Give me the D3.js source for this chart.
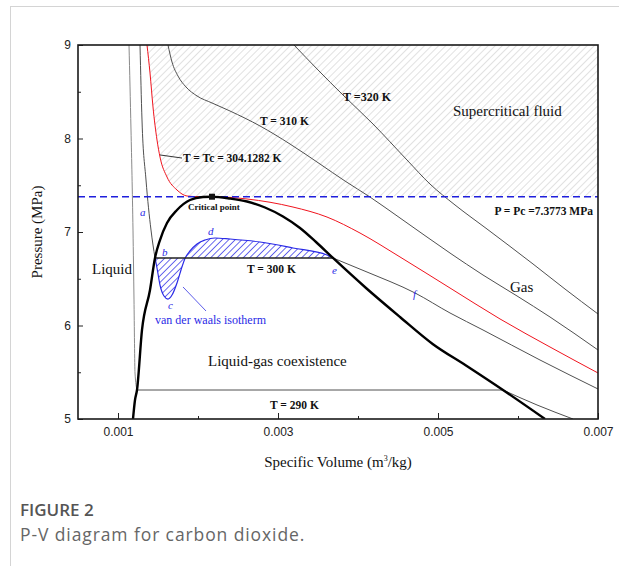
<!DOCTYPE html>
<html>
<head>
<meta charset="utf-8">
<script src="https://cdn.jsdelivr.net/npm/d3@7"></script>
<style>
  html, body { margin: 0; padding: 0; background: #fff; }
  svg { display: block; }
</style>
</head>
<body>
<script>
// ---- CO2 P-V diagram data (specific volume in m^3/kg, pressure in MPa) ----
const pc = 7.3773;          // critical pressure
const vc = 0.002175;        // critical specific volume
const psat300 = 6.722;      // saturation pressure at 300 K
const psat290 = 5.31;       // saturation pressure at 290 K

// saturation dome
const domeV = [0.0011875, 0.0012125, 0.0012375, 0.0013, 0.0014, 0.0014625, 0.001525, 0.0016125, 0.0017375, 0.0019, 0.0020625, 0.002175,
               0.0024, 0.0026125, 0.0028375, 0.0030625, 0.003275, 0.003475, 0.0036875, 0.0041, 0.004525, 0.0049375, 0.00535, 0.0058125, 0.0063375];
const domeP = [5.0, 5.203, 5.31, 5.952, 6.38, 6.722, 6.914, 7.096, 7.235, 7.342, 7.374, 7.3773,
               7.358, 7.326, 7.262, 7.166, 7.043, 6.893, 6.722, 6.401, 6.091, 5.8, 5.572, 5.31, 5.0];

// critical isotherm T = Tc
const tcV = [0.0013625, 0.0014, 0.0014375, 0.0014875, 0.001525, 0.0016125, 0.0017375, 0.0018625, 0.002025, 0.002175,
             0.0026125, 0.0031875, 0.0036125, 0.004025, 0.004525, 0.00515, 0.005775, 0.0064, 0.007];
const tcP = [9.0, 8.701, 8.337, 7.984, 7.802, 7.588, 7.449, 7.385, 7.3773, 7.3773,
             7.353, 7.267, 7.16, 6.989, 6.733, 6.401, 6.07, 5.77, 5.492];

// T = 310 K
const t310V = [0.001625, 0.001675, 0.00175, 0.00185, 0.0019875, 0.002175, 0.0024, 0.002775, 0.00315, 0.003525, 0.0038375,
               0.00415, 0.004525, 0.00515, 0.0055625, 0.0059875, 0.0064, 0.007];
const t310P = [9.0, 8.818, 8.668, 8.551, 8.455, 8.38, 8.294, 8.134, 7.941, 7.727, 7.545,
               7.374, 7.15, 6.775, 6.54, 6.316, 6.091, 5.738];

// T = 320 K
const t320V = [0.0032, 0.0035, 0.0038125, 0.0041875, 0.0046125, 0.0049, 0.0052125, 0.0056125, 0.0061875, 0.0065875, 0.007];
const t320P = [9.0, 8.733, 8.465, 8.155, 7.77, 7.513, 7.289, 7.032, 6.658, 6.39, 6.123];

// T = 300 K: liquid branch, gas branch
const t300LiqV = [0.001275, 0.0013, 0.00135, 0.0014125, 0.0014625];
const t300LiqP = [9.0, 8.198, 7.556, 7.021, 6.722];
const t300GasV = [0.0036875, 0.0041125, 0.0047125, 0.00515, 0.0055625, 0.006275, 0.007];
const t300GasP = [6.722, 6.572, 6.348, 6.134, 5.952, 5.631, 5.321];

// T = 290 K: liquid branch, gas branch
const t290LiqV = [0.0011375, 0.0011625, 0.0011875, 0.0012, 0.0012125, 0.0012375];
const t290LiqP = [9.0, 8.091, 7.021, 6.273, 5.492, 5.31];
const t290GasV = [0.0058125, 0.0062375, 0.0066875];
const t290GasP = [5.31, 5.15, 5.0];

// van der Waals loop at 300 K (b -> c -> d -> e)
const vdwV = [0.0014625, 0.0014875, 0.001525, 0.001575, 0.001625, 0.001675, 0.0017375, 0.0017875, 0.00184,
              0.0019, 0.0019875, 0.0020875, 0.0022125, 0.0024, 0.002775, 0.0031875, 0.0036125, 0.0036875];
const vdwP = [6.722, 6.615, 6.433, 6.316, 6.283, 6.326, 6.455, 6.594, 6.722,
              6.797, 6.872, 6.914, 6.936, 6.925, 6.893, 6.829, 6.754, 6.722];

// axis ticks
const xMajor = [0.001, 0.003, 0.005, 0.007];
const xMinor = [0.002, 0.004, 0.006];
const yMajor = [5, 6, 7, 8, 9];
const yMinor = [5.5, 6.5, 7.5, 8.5];

// ---- layout ----
const W = 619, H = 566;
const m = { left: 78, top: 45, width: 520, height: 374 };

const svg = d3.select("body").append("svg").attr("width", W).attr("height", H);

// page frame lines
svg.append("line").attr("x1", 10.5).attr("x2", 10.5).attr("y1", 6).attr("y2", H).attr("stroke", "#d4d4d4");
svg.append("line").attr("x1", 10).attr("x2", W).attr("y1", 6.5).attr("y2", 6.5).attr("stroke", "#d4d4d4");

const defs = svg.append("defs");
function hatch(id, gap, color, width) {
  const p = defs.append("pattern").attr("id", id).attr("patternUnits", "userSpaceOnUse")
    .attr("width", gap).attr("height", gap).attr("patternTransform", "rotate(45)");
  p.append("line").attr("x1", 0).attr("y1", 0).attr("x2", 0).attr("y2", gap)
    .attr("stroke", color).attr("stroke-width", width);
}
hatch("hatchGrey", 5, "#bdbdbd", 0.9);
hatch("hatchBlue", 4.6, "#2a2ae6", 1.4);

defs.append("clipPath").attr("id", "plotClip").append("rect")
  .attr("width", m.width).attr("height", m.height);

const g = svg.append("g").attr("transform", `translate(${m.left},${m.top})`);
const x = d3.scaleLinear().domain([0.0005, 0.007]).range([0, m.width]);
const y = d3.scaleLinear().domain([5, 9]).range([m.height, 0]);

const zip = (vs, ps) => vs.map((v, i) => [v, ps[i]]);
const line = d3.line().x(d => x(d[0])).y(d => y(d[1])).curve(d3.curveMonotoneX);

const plot = g.append("g").attr("clip-path", "url(#plotClip)");

// supercritical region: right of the critical isotherm, above Pc
const scBound = zip(tcV, tcP).filter(d => d[0] <= vc).concat([[0.007, pc]]);
plot.append("path")
  .attr("d", d3.area().x(d => x(d[0])).y0(d => y(d[1])).y1(y(9)).curve(d3.curveMonotoneX)(scBound))
  .attr("fill", "url(#hatchGrey)");

// van der Waals loop hatched areas
plot.append("path")
  .attr("d", d3.area().x(d => x(d[0])).y0(y(psat300)).y1(d => y(d[1])).curve(d3.curveMonotoneX)(zip(vdwV, vdwP)))
  .attr("fill", "url(#hatchBlue)");
plot.append("path").attr("d", line(zip(vdwV, vdwP)))
  .attr("fill", "none").attr("stroke", "#2a2ae6").attr("stroke-width", 1.2);

// isotherms
const iso = (vs, ps, c) => plot.append("path").attr("d", line(zip(vs, ps)))
  .attr("fill", "none").attr("stroke", c || "#505050").attr("stroke-width", 1);
iso(t320V, t320P);
iso(t310V, t310P);
iso(t300LiqV, t300LiqP);
iso(t300GasV, t300GasP);
iso(t290LiqV, t290LiqP, "#8a8a8a");
iso(t290GasV, t290GasP);
// tie lines
plot.append("line").attr("x1", x(t290LiqV[t290LiqV.length - 1])).attr("x2", x(t290GasV[0]))
  .attr("y1", y(psat290)).attr("y2", y(psat290)).attr("stroke", "#505050").attr("stroke-width", 1);
plot.append("line").attr("x1", x(t300LiqV[t300LiqV.length - 1])).attr("x2", x(t300GasV[0]))
  .attr("y1", y(psat300)).attr("y2", y(psat300)).attr("stroke", "#222").attr("stroke-width", 1.6);

// critical isotherm
plot.append("path").attr("d", line(zip(tcV, tcP)))
  .attr("fill", "none").attr("stroke", "#f0141e").attr("stroke-width", 1);

// critical pressure line
plot.append("line").attr("x1", 0).attr("x2", m.width).attr("y1", y(pc)).attr("y2", y(pc))
  .attr("stroke", "#1f1fdc").attr("stroke-width", 1.6).attr("stroke-dasharray", "7,4");

// saturation dome
plot.append("path").attr("d", line(zip(domeV, domeP)))
  .attr("fill", "none").attr("stroke", "#000").attr("stroke-width", 2.4);

// critical point marker
g.append("rect").attr("x", x(vc) - 3).attr("y", y(pc) - 3).attr("width", 6).attr("height", 6).attr("fill", "#111");

// ---- axes ----
const tickFont = "'Liberation Sans', Arial, sans-serif";
g.append("g").attr("transform", `translate(0,${m.height})`)
  .call(d3.axisBottom(x).tickValues(xMajor).tickSize(-6).tickPadding(8).tickFormat(d3.format(".3f")));
g.append("g").attr("transform", `translate(0,${m.height})`)
  .call(d3.axisBottom(x).tickValues(xMinor).tickSize(-3).tickFormat(""));
g.append("g")
  .call(d3.axisLeft(y).tickValues(yMajor).tickSize(-5).tickPadding(7).tickFormat(d3.format("d")));
g.append("g")
  .call(d3.axisLeft(y).tickValues(yMinor).tickSize(-3).tickFormat(""));
g.selectAll(".tick line").attr("stroke", "#222");
g.selectAll(".domain").remove();
g.selectAll(".tick text").attr("font-family", tickFont).attr("font-size", 12).attr("fill", "#222");

// frame
g.append("rect").attr("width", m.width).attr("height", m.height)
  .attr("fill", "none").attr("stroke", "#1a1a1a").attr("stroke-width", 1.6);

// ---- annotations ----
const serif = "'Liberation Serif', 'Times New Roman', serif";
function label(txt, v, p, opts = {}) {
  return g.append("text").attr("x", x(v)).attr("y", y(p)).text(txt)
    .attr("font-family", serif)
    .attr("font-size", opts.size || 11.5)
    .attr("font-weight", opts.bold ? "bold" : "normal")
    .attr("font-style", opts.italic ? "italic" : "normal")
    .attr("fill", opts.color || "#111")
    .attr("text-anchor", opts.anchor || "start");
}
label("T =320 K", 0.0038125, 8.401, { bold: true, size: 12 });
label("T = 310 K", 0.002775, 8.144, { bold: true });
label("T = Tc = 304.1282 K", 0.0018125, 7.749, { bold: true });
g.append("line").attr("x1", x(0.001525)).attr("y1", y(7.824)).attr("x2", x(0.0018)).attr("y2", y(7.791))
  .attr("stroke", "#333").attr("stroke-width", 1);
label("Supercritical fluid", 0.0051875, 8.241, { size: 15 });
label("P = Pc =7.3773 MPa", 0.0069375, 7.182, { bold: true, anchor: "end" });
label("Critical point", 0.001875, 7.235, { bold: true, size: 9 });
label("Liquid", 0.000675, 6.551, { size: 15 });
label("T = 300 K", 0.0026125, 6.561, { bold: true });
label("Gas", 0.0059, 6.358, { size: 15 });
label("Liquid-gas coexistence", 0.002125, 5.567, { size: 15 });
label("T = 290 K", 0.0029, 5.107, { bold: true });
label("van der waals isotherm", 0.0014625, 6.016, { size: 12, color: "#2a2ae6" });
g.append("line").attr("x1", x(0.0018125)).attr("y1", y(6.412)).attr("x2", x(0.0021)).attr("y2", y(6.155))
  .attr("stroke", "#4a4ae6").attr("stroke-width", 0.9);

const points = [["a", 0.001275, 7.171], ["b", 0.00155, 6.743], ["c", 0.001625, 6.176],
                ["d", 0.002125, 6.968], ["e", 0.003675, 6.551], ["f", 0.0046875, 6.294]];
points.forEach(([t, v, p]) => label(t, v, p, { italic: true, size: 11, color: "#2a2ae6" }));

// axis titles
svg.append("text").attr("transform", `translate(42,${m.top + m.height / 2}) rotate(-90)`)
  .attr("text-anchor", "middle").attr("font-family", serif).attr("font-size", 15).attr("fill", "#111")
  .text("Pressure (MPa)");
const xt = svg.append("text").attr("x", m.left + m.width / 2).attr("y", 467)
  .attr("text-anchor", "middle").attr("font-family", serif).attr("font-size", 15).attr("fill", "#111");
xt.append("tspan").text("Specific Volume (m");
xt.append("tspan").text("3").attr("font-size", 8).attr("dy", -6);
xt.append("tspan").text("/kg)").attr("dy", 6);

// caption
svg.append("text").attr("x", 20).attr("y", 516).text("FIGURE 2")
  .attr("font-family", "'Open Sans', 'Noto Sans', sans-serif").attr("font-size", 17)
  .attr("font-weight", 600).attr("fill", "#555");
svg.append("text").attr("x", 20).attr("y", 541).text("P-V diagram for carbon dioxide.")
  .attr("font-family", "'Open Sans', 'Noto Sans', sans-serif").attr("font-size", 17.5)
  .attr("letter-spacing", 0.9).attr("fill", "#666");
</script>
</body>
</html>
